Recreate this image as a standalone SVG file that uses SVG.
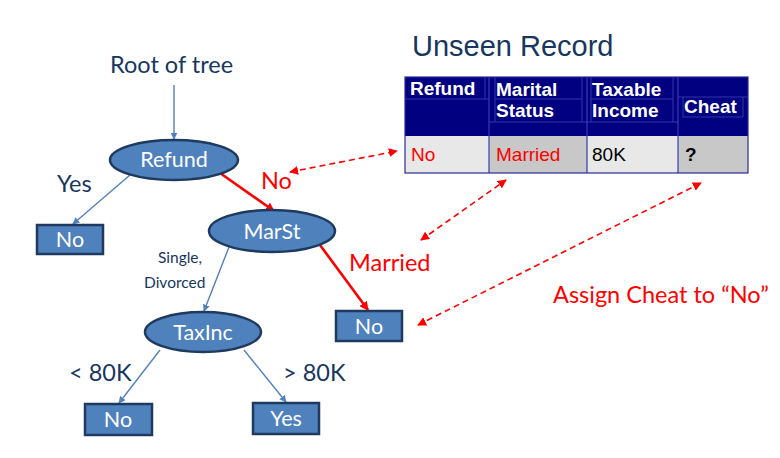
<svg xmlns="http://www.w3.org/2000/svg" width="780" height="458" viewBox="0 0 780 458">
  <defs>
    <marker id="blueHead" viewBox="0 0 10 10" refX="9" refY="5" markerWidth="7" markerHeight="7" markerUnits="userSpaceOnUse" orient="auto">
      <path d="M0,0 L10,5 L0,10 z" fill="#4f81bd"/>
    </marker>
    <marker id="redHead" viewBox="0 0 10 10" refX="9" refY="5" markerWidth="9" markerHeight="9" markerUnits="userSpaceOnUse" orient="auto">
      <path d="M0,0 L10,5 L0,10 z" fill="#ff0000"/>
    </marker>
    <marker id="dashHead" viewBox="0 0 10 10" refX="9" refY="5" markerWidth="9" markerHeight="9" markerUnits="userSpaceOnUse" orient="auto-start-reverse">
      <path d="M0,0 L10,5 L0,10 z" fill="#ff0000"/>
    </marker>
  </defs>
  <style>
    .node { fill: #4f81bd; stroke: #1f3a5f; stroke-width: 2.5; }
    .nodeText { font-family: Lato, "Open Sans", sans-serif; font-size: 21.5px; fill: #ffffff; text-anchor: middle; }
    .label { font-family: Lato, "Open Sans", sans-serif; font-size: 23.5px; fill: #17375e; }
    .redLabel { font-family: Lato, "Open Sans", sans-serif; font-size: 23.5px; fill: #ff0000; }
    .small { font-family: Lato, "Open Sans", sans-serif; font-size: 15.5px; fill: #17375e; }
    .blueEdge { stroke: #4f81bd; stroke-width: 1.4; fill: none; marker-end: url(#blueHead); }
    .redEdge { stroke: #ff0000; stroke-width: 2.6; fill: none; marker-end: url(#redHead); }
    .dashEdge { stroke: #ff0000; stroke-width: 1.6; fill: none; stroke-dasharray: 6 4; marker-start: url(#dashHead); marker-end: url(#dashHead); }
    .hdr { font-family: "Liberation Sans", Arial, sans-serif; font-size: 19px; font-weight: bold; fill: #ffffff; }
    .cell { font-family: "Liberation Sans", Arial, sans-serif; font-size: 19px; }
    .inner { stroke: #3535a8; stroke-width: 1; fill: none; }
  </style>

  <rect width="780" height="458" fill="#ffffff"/>

  <!-- Title of the record table -->
  <text x="412" y="56" font-family="'Liberation Sans', Arial, sans-serif" font-size="29" fill="#17375e">Unseen Record</text>

  <!-- Record table -->
  <g id="record-table">
    <rect x="405" y="77" width="343" height="59" fill="#000080"/>
    <rect x="405" y="136" width="84" height="37" fill="#e8e8e8"/>
    <rect x="489" y="136" width="98" height="37" fill="#c8c8c8"/>
    <rect x="587" y="136" width="91" height="37" fill="#e8e8e8"/>
    <rect x="678" y="136" width="70" height="37" fill="#c8c8c8"/>
    <!-- faint cell frames inside header -->
    <path class="inner" d="M485,77 V99 M405,99 H489 M495,77 V122 M495,99 H582 M582,77 V122 M489,122 H587 M591,77 V122 M591,99 H673 M673,77 V122 M587,122 H678 M678,97 H748 M683,97 V117 M743,97 V117 M683,117 H743"/>
    <!-- column dividers and outer frame -->
    <path d="M489,77 V173 M587,77 V173 M678,77 V173" stroke="#3a3ab0" stroke-width="1.2"/>
    <rect x="405" y="77" width="343" height="96" fill="none" stroke="#2a2a9a" stroke-width="1.2"/>
    <text class="hdr" x="410" y="95">Refund</text>
    <text class="hdr" x="496" y="96">Marital</text>
    <text class="hdr" x="496" y="117">Status</text>
    <text class="hdr" x="592" y="96">Taxable</text>
    <text class="hdr" x="592" y="117">Income</text>
    <text class="hdr" x="684" y="113">Cheat</text>
    <text class="cell" x="411" y="161" fill="#ff0000">No</text>
    <text class="cell" x="496" y="161" fill="#ff0000">Married</text>
    <text class="cell" x="592" y="161" fill="#000000">80K</text>
    <text class="cell" x="685" y="161" fill="#000000" font-weight="bold">?</text>
  </g>

  <!-- Tree connectors -->
  <g id="connectors">
    <line class="blueEdge" x1="174" y1="85" x2="174" y2="139"/>
    <line class="blueEdge" x1="130" y1="175" x2="73" y2="224"/>
    <line class="redEdge" x1="220" y1="173" x2="274" y2="211"/>
    <line class="blueEdge" x1="229" y1="247" x2="204" y2="311"/>
    <line class="redEdge" x1="320" y1="245" x2="368" y2="310"/>
    <line class="blueEdge" x1="160" y1="350" x2="119" y2="403"/>
    <line class="blueEdge" x1="244" y1="350" x2="286" y2="402"/>
    <line class="dashEdge" x1="290" y1="172" x2="397" y2="151"/>
    <line class="dashEdge" x1="421" y1="240" x2="506" y2="180"/>
    <line class="dashEdge" x1="418" y1="325" x2="701" y2="183"/>
  </g>

  <!-- Edge labels -->
  <text class="label" x="110" y="73">Root of tree</text>
  <text class="label" x="57" y="192">Yes</text>
  <text class="redLabel" x="261" y="189">No</text>
  <text class="small" x="180" y="263" text-anchor="middle">Single,</text>
  <text class="small" x="144" y="288">Divorced</text>
  <text class="redLabel" x="349" y="271">Married</text>
  <text class="label" x="69" y="381">&lt; 80K</text>
  <text class="label" x="283" y="381">&gt; 80K</text>
  <text class="redLabel" x="553" y="303">Assign Cheat to “No”</text>

  <!-- Tree nodes -->
  <g id="node-refund">
    <ellipse class="node" cx="174" cy="160" rx="64" ry="20"/>
    <text class="nodeText" x="174" y="167">Refund</text>
  </g>
  <g id="node-marst">
    <ellipse class="node" cx="272" cy="231" rx="63" ry="21"/>
    <text class="nodeText" x="272" y="239">MarSt</text>
  </g>
  <g id="node-taxinc">
    <ellipse class="node" cx="203" cy="332" rx="58" ry="20"/>
    <text class="nodeText" x="203" y="340">TaxInc</text>
  </g>
  <g id="leaf-no-refund">
    <rect class="node" x="37" y="225" width="66" height="29"/>
    <text class="nodeText" x="70" y="247">No</text>
  </g>
  <g id="leaf-no-married">
    <rect class="node" x="336" y="311" width="66" height="30"/>
    <text class="nodeText" x="369" y="334">No</text>
  </g>
  <g id="leaf-no-low">
    <rect class="node" x="85" y="404" width="67" height="31"/>
    <text class="nodeText" x="118" y="427">No</text>
  </g>
  <g id="leaf-yes-high">
    <rect class="node" x="253" y="403" width="66" height="31"/>
    <text class="nodeText" x="286" y="426">Yes</text>
  </g>
</svg>
